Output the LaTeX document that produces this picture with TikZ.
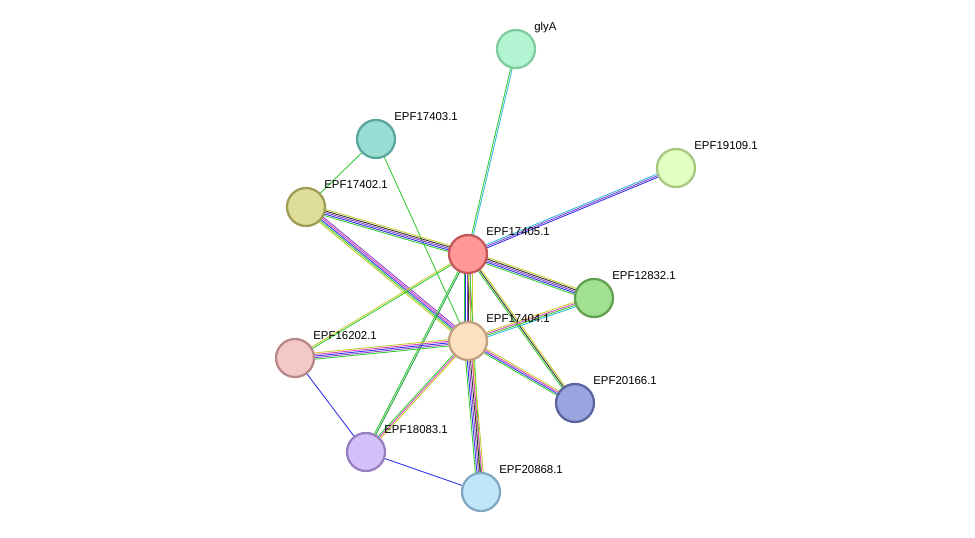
\documentclass[tikz,border=0pt]{standalone}
\usepackage{fontspec}
\setmainfont{Liberation Sans}
\usetikzlibrary{calc}
\definecolor{egreen}{HTML}{33CC33}
\definecolor{ecyan}{HTML}{33BBDD}
\definecolor{eblue}{HTML}{3333EE}
\definecolor{epurple}{HTML}{8844CC}
\definecolor{emag}{HTML}{DD44BB}
\definecolor{eyel}{HTML}{C8CC30}
\definecolor{eblack}{HTML}{333333}
\definecolor{edkgreen}{HTML}{229944}
\tikzset{
  prot/.style={circle, line width=1.3pt, minimum size=0.76cm, inner sep=0pt},
  lbl/.style={anchor=west, inner sep=0pt, font=\fontsize{6.5}{7}\selectfont},
}
% multi-coloured edge: \medge{from}{to}{colours}
\newcommand{\medge}[3]{%
  \foreach \c [count=\i] in {#3} {\xdef\nn{\i}}%
  \foreach \c [count=\i] in {#3} {
    \pgfmathsetmacro{\off}{(\i-(\nn+1)/2)*0.9}
    \draw[\c, line width=0.5pt] ($(#1)!\off pt!90:(#2)$) -- ($(#2)!\off pt!-90:(#1)$);
  }%
}
\begin{document}
\begin{tikzpicture}[x=0.02cm, y=-0.02cm]
\useasboundingbox (0,0) rectangle (975,538);
\coordinate (glyA) at (516,49);
\coordinate (p17403) at (376,139);
\coordinate (p19109) at (676,168);
\coordinate (p17402) at (306,207);
\coordinate (p17405) at (468,254);
\coordinate (p12832) at (594,298);
\coordinate (p17404) at (468,341);
\coordinate (p16202) at (295,358);
\coordinate (p20166) at (575,403);
\coordinate (p18083) at (366,452);
\coordinate (p20868) at (481,492);
% edges
\medge{glyA}{p17405}{egreen,ecyan}
\medge{p17403}{p17402}{egreen}
\medge{p17403}{p17404}{egreen}
\medge{p19109}{p17405}{ecyan,epurple,eblue}
\medge{p17402}{p17405}{egreen,eblue,epurple,eblack,eyel}
\medge{p17402}{p17404}{eyel,egreen,eblue,emag,epurple}
\medge{p17405}{p12832}{egreen,eblue,epurple,eblack,eyel}
\medge{p17405}{p17404}{egreen,eblue,epurple,eblack,emag,eyel}
\medge{p17405}{p16202}{eyel,egreen}
\medge{p17405}{p20166}{egreen,eblack,eyel}
\medge{p17405}{p18083}{egreen,edkgreen}
\medge{p17405}{p20868}{eyel,egreen}
\medge{p17404}{p12832}{ecyan,egreen,emag,eyel}
\medge{p17404}{p16202}{eyel,emag,eblue,epurple,egreen}
\medge{p17404}{p20166}{egreen,eblue,emag,eyel}
\medge{p17404}{p18083}{egreen,emag,eyel}
\medge{p17404}{p20868}{egreen,eblue,epurple,eblack,emag,eyel}
\medge{p16202}{p18083}{eblue}
\medge{p18083}{p20868}{eblue}
% nodes
\node[prot, fill={rgb,255:red,179;green,245;blue,210}, draw={rgb,255:red,127;green,204;blue,159}] (nglyA) at (glyA) {};
\node[prot, fill={rgb,255:red,153;green,221;blue,212}, draw={rgb,255:red,90;green,166;blue,158}] (n17403) at (p17403) {};
\node[prot, fill={rgb,255:red,224;green,255;blue,192}, draw={rgb,255:red,168;green,200;blue,128}] (n19109) at (p19109) {};
\node[prot, fill={rgb,255:red,222;green,221;blue,153}, draw={rgb,255:red,158;green,156;blue,85}] (n17402) at (p17402) {};
\node[prot, fill={rgb,255:red,255;green,151;blue,151}, draw={rgb,255:red,194;green,88;blue,88}] (n17405) at (p17405) {};
\node[prot, fill={rgb,255:red,160;green,224;blue,144}, draw={rgb,255:red,96;green,160;blue,80}] (n12832) at (p12832) {};
\node[prot, fill={rgb,255:red,253;green,224;blue,192}, draw={rgb,255:red,192;green,160;blue,128}] (n17404) at (p17404) {};
\node[prot, fill={rgb,255:red,245;green,200;blue,200}, draw={rgb,255:red,184;green,136;blue,136}] (n16202) at (p16202) {};
\node[prot, fill={rgb,255:red,154;green,165;blue,224}, draw={rgb,255:red,90;green,101;blue,160}] (n20166) at (p20166) {};
\node[prot, fill={rgb,255:red,212;green,192;blue,248}, draw={rgb,255:red,152;green,128;blue,192}] (n18083) at (p18083) {};
\node[prot, fill={rgb,255:red,192;green,230;blue,250}, draw={rgb,255:red,128;green,168;blue,192}] (n20868) at (p20868) {};
% labels
\node[lbl] (lglyA) at ($(glyA)+(18,-21)$) {glyA};
\node[lbl] (l17403) at ($(p17403)+(18,-22)$) {EPF17403.1};
\node[lbl] (l19109) at ($(p19109)+(18,-22)$) {EPF19109.1};
\node[lbl] (l17402) at ($(p17402)+(18,-22)$) {EPF17402.1};
\node[lbl] (l17405) at ($(p17405)+(18,-22)$) {EPF17405.1};
\node[lbl] (l12832) at ($(p12832)+(18,-22)$) {EPF12832.1};
\node[lbl] (l17404) at ($(p17404)+(18,-22)$) {EPF17404.1};
\node[lbl] (l16202) at ($(p16202)+(18,-22)$) {EPF16202.1};
\node[lbl] (l20166) at ($(p20166)+(18,-22)$) {EPF20166.1};
\node[lbl] (l18083) at ($(p18083)+(18,-22)$) {EPF18083.1};
\node[lbl] (l20868) at ($(p20868)+(18,-22)$) {EPF20868.1};
\end{tikzpicture}
\end{document}
